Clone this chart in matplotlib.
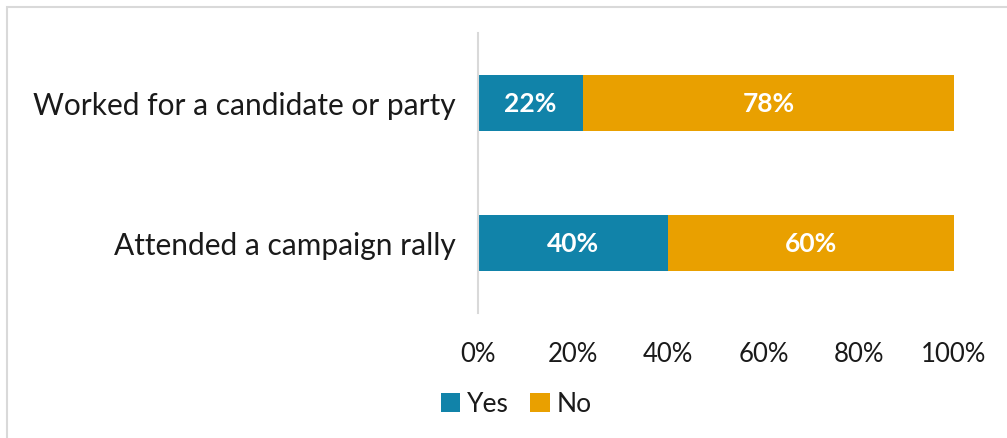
import matplotlib
matplotlib.use("Agg")
import matplotlib.pyplot as plt
from matplotlib.patches import Rectangle, Patch
from matplotlib.ticker import FuncFormatter

plt.rcParams['font.family'] = ['Lato', 'DejaVu Sans']

categories = ["Attended a campaign rally", "Worked for a candidate or party"]
yes_pct = [40, 22]
no_pct = [60, 78]
series_names = ["Yes", "No"]
colors = ["#1183A9", "#E9A000"]
tick_values = [0, 20, 40, 60, 80, 100]

W, H = 1007, 439
fig = plt.figure(figsize=(W / 100, H / 100), dpi=100)
fig.patch.set_facecolor("white")

# light frame around the chart area
frame = Rectangle((7 / W, -0.1), 1.2, (H - 8) / H + 0.1, transform=fig.transFigure,
                  fill=False, edgecolor="#D9D9D9", linewidth=1.5)
fig.patches.append(frame)

ax = fig.add_axes([478 / W, (H - 314) / H, 476 / W, 280 / H])
ypos = list(range(len(categories)))
bars_yes = ax.barh(ypos, yes_pct, height=0.4, color=colors[0], label=series_names[0])
bars_no = ax.barh(ypos, no_pct, left=yes_pct, height=0.4, color=colors[1], label=series_names[1])

for bars, vals, lefts in ((bars_yes, yes_pct, [0] * len(yes_pct)), (bars_no, no_pct, yes_pct)):
    for b, v, l in zip(bars, vals, lefts):
        ax.text(l + v / 2, b.get_y() + b.get_height() / 2, f"{v}%", ha="center", va="center",
                color="white", fontsize=19, fontweight="bold")

ax.set_xlim(0, 100)
ax.set_ylim(-0.5, 1.5)
ax.set_yticks(ypos)
ax.set_yticklabels(categories, fontsize=21.5, color="#1a1a1a")
ax.set_xticks(tick_values)
ax.xaxis.set_major_formatter(FuncFormatter(lambda v, p: f"{v:.0f}%"))
ax.tick_params(axis="x", labelsize=18.5, labelcolor="#1a1a1a", length=0, pad=20)
ax.tick_params(axis="y", length=0, pad=16)
for s in ("top", "right", "bottom"):
    ax.spines[s].set_visible(False)
ax.spines["left"].set_color("#D9D9D9")
ax.spines["left"].set_linewidth(1.5)

handles = [Patch(facecolor=c, edgecolor="none") for c in colors]
fig.legend(handles, series_names, loc="center", bbox_to_anchor=(516 / W, 1 - 405 / H),
           ncol=2, frameon=False, fontsize=19, handlelength=0.75, handleheight=0.75,
           handletextpad=0.25, columnspacing=0.8, labelcolor="#1a1a1a")

fig.savefig("out.png", dpi=100, facecolor="white")
